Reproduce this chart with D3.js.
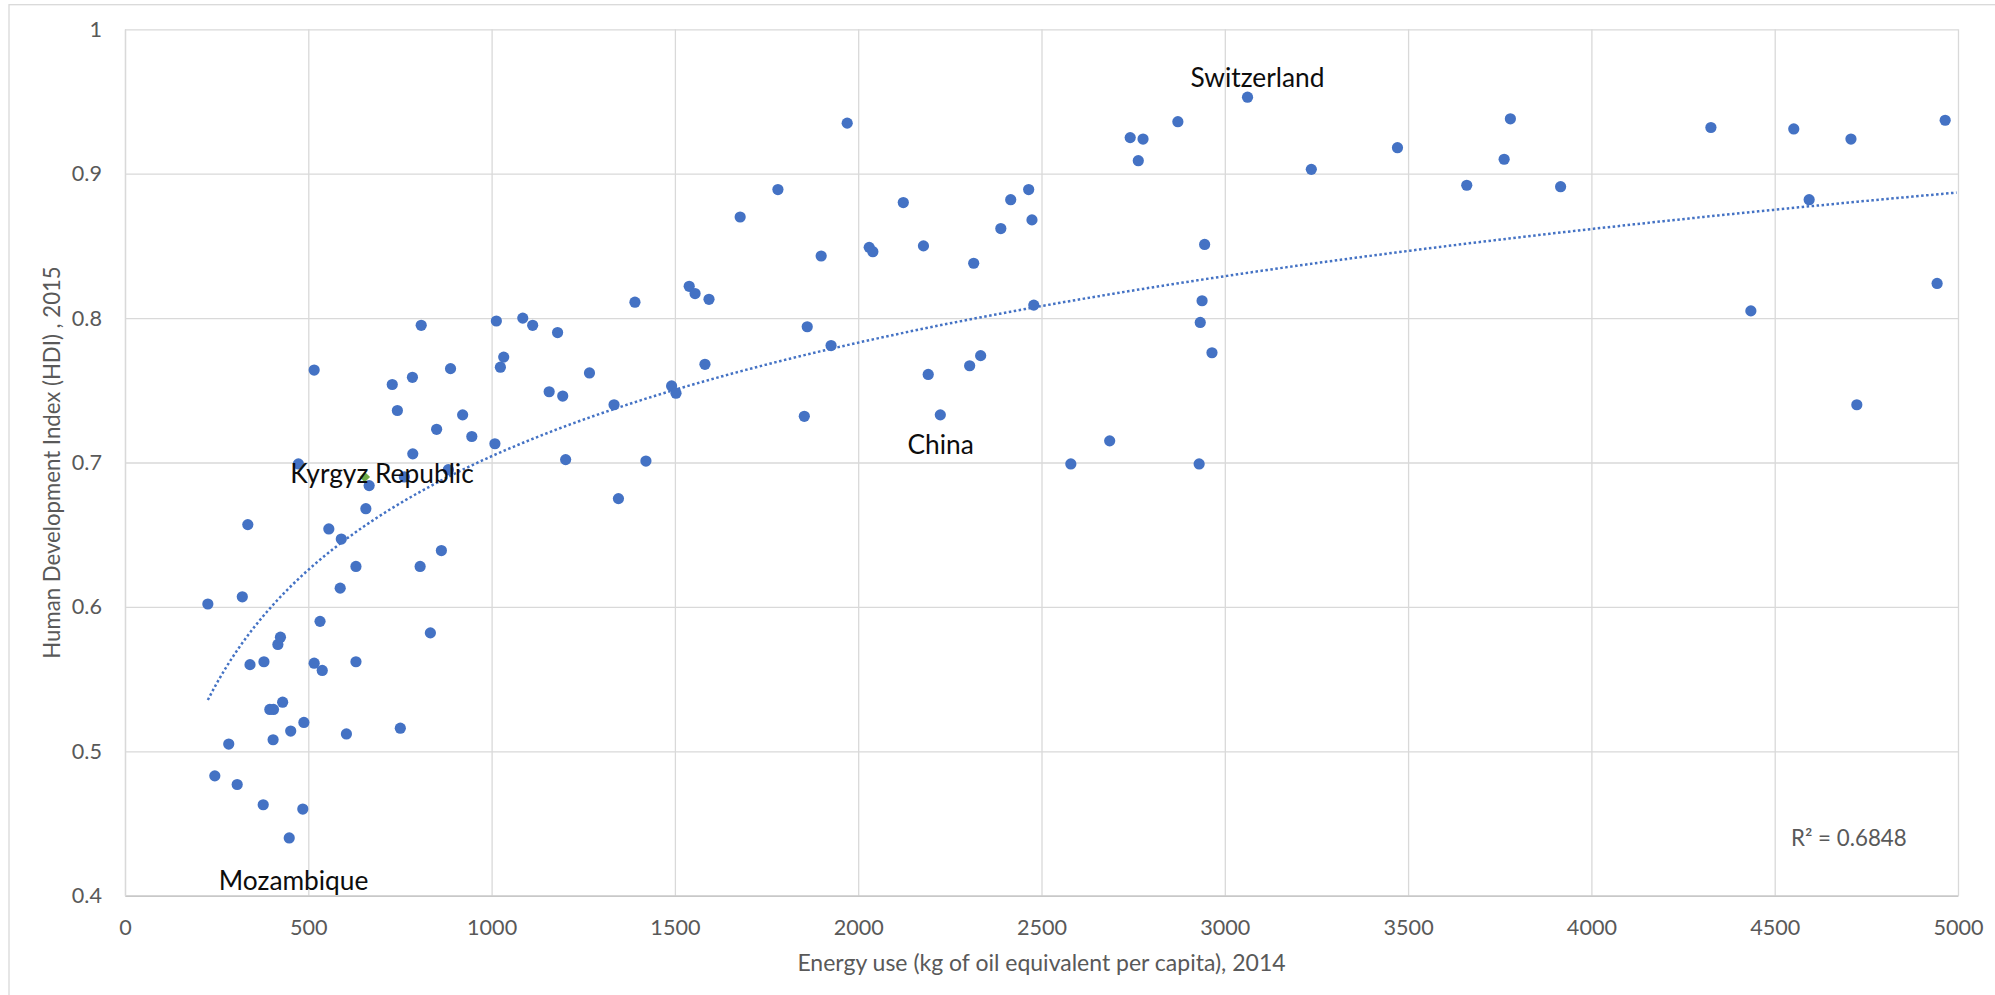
<!DOCTYPE html>
<html>
<head>
<meta charset="utf-8">
<script src="https://cdn.jsdelivr.net/npm/d3@7"></script>
<style>
    body { margin: 0; background: #fff; }
    text { font-family: Lato, "Open Sans", sans-serif; }
</style>
</head>
<body>
<div id="chart"></div>
<script>
// energy use (kg of oil equivalent per capita), 2014
const energy = [
    226, 245, 283, 306, 320, 335, 341, 377, 379, 395, 405, 404, 417, 424, 430, 448, 452, 473, 485, 488,
    516, 516, 532, 538, 556, 587, 590, 604, 630, 630, 657, 666, 729, 743, 751, 762, 784, 785, 805, 808,
    833, 850, 863, 882, 888, 921, 946, 1009, 1013, 1024, 1033, 1085, 1112, 1157, 1180, 1194, 1202, 1267, 1334, 1346,
    1391, 1421, 1491, 1503, 1539, 1555, 1582, 1593, 1678, 1781, 1853, 1861, 1899, 1926, 1970, 2030, 2040, 2123, 2178, 2191,
    2224, 2304, 2315, 2334, 2389, 2416, 2465, 2474, 2479, 2580, 2686, 2742, 2764, 2777, 2872, 2930, 2933, 2938, 2945, 2965,
    3062, 3236, 3471, 3660, 3762, 3779, 3916, 4326, 4435, 4552, 4594, 4708, 4724, 4943, 4965
];
// human development index, 2015
const hdi = [
    0.602, 0.483, 0.505, 0.477, 0.607, 0.657, 0.560, 0.463, 0.562, 0.529, 0.529, 0.508, 0.574, 0.579, 0.534, 0.440, 0.514, 0.699, 0.460, 0.520,
    0.764, 0.561, 0.590, 0.556, 0.654, 0.613, 0.647, 0.512, 0.628, 0.562, 0.668, 0.684, 0.754, 0.736, 0.516, 0.690, 0.759, 0.706, 0.628, 0.795,
    0.582, 0.723, 0.639, 0.695, 0.765, 0.733, 0.718, 0.713, 0.798, 0.766, 0.773, 0.800, 0.795, 0.749, 0.790, 0.746, 0.702, 0.762, 0.740, 0.675,
    0.811, 0.701, 0.753, 0.748, 0.822, 0.817, 0.768, 0.813, 0.870, 0.889, 0.732, 0.794, 0.843, 0.781, 0.935, 0.849, 0.846, 0.880, 0.850, 0.761,
    0.733, 0.767, 0.838, 0.774, 0.862, 0.882, 0.889, 0.868, 0.809, 0.699, 0.715, 0.925, 0.909, 0.924, 0.936, 0.699, 0.797, 0.812, 0.851, 0.776,
    0.953, 0.903, 0.918, 0.892, 0.910, 0.938, 0.891, 0.932, 0.805, 0.931, 0.882, 0.924, 0.740, 0.824, 0.937
];

// highlighted country
const highlightEnergy = [654];
const highlightHdi = [0.690];

// country labels (text anchor in data units)
const labelNames = ["Switzerland", "China", "Kyrgyz Republic", "Mozambique"];
const labelEnergy = [3089, 2225, 701, 460];
const labelHdi = [0.960, 0.706, 0.686, 0.404];

// logarithmic trend line y = a ln(x) + b
const trendA = 0.1135;
const trendB = -0.0797;
const trendRange = [226, 5000];
const rSquaredText = "R² = 0.6848";

const xTicks = [0, 500, 1000, 1500, 2000, 2500, 3000, 3500, 4000, 4500, 5000];
const yTicks = [0.4, 0.5, 0.6, 0.7, 0.8, 0.9, 1];
const yTickLabels = ["0.4", "0.5", "0.6", "0.7", "0.8", "0.9", "1"];

const xTitle = "Energy use (kg of oil equivalent per capita), 2014";
const yTitle = "Human Development Index (HDI) , 2015";

const width = 1995, height = 995;
const plot = {left: 125, right: 1958, top: 29.3, bottom: 895.7};

const svg = d3.select("#chart")
    .append("svg")
    .attr("width", width)
    .attr("height", height);

// chart frame
svg.append("rect")
    .attr("x", 9)
    .attr("y", 4.7)
    .attr("width", width)
    .attr("height", height)
    .attr("fill", "none")
    .attr("stroke", "#d9d9d9")
    .attr("stroke-width", 1.3);

const x = d3.scaleLinear()
    .domain([0, 5000])
    .range([plot.left, plot.right]);
const y = d3.scaleLinear()
    .domain([0.4, 1])
    .range([plot.bottom, plot.top]);

// gridlines
svg.append("g")
    .attr("transform", `translate(0,${plot.bottom})`)
    .call(d3.axisBottom(x).tickValues(xTicks).tickSize(-(plot.bottom - plot.top)).tickFormat(""))
    .call(g => g.select(".domain").remove())
    .call(g => g.selectAll("line").attr("stroke", "#d9d9d9").attr("stroke-width", 1.3));
svg.append("g")
    .attr("transform", `translate(${plot.left},0)`)
    .call(d3.axisLeft(y).tickValues(yTicks).tickSize(-(plot.right - plot.left)).tickFormat(""))
    .call(g => g.select(".domain").remove())
    .call(g => g.selectAll("line").attr("stroke", "#d9d9d9").attr("stroke-width", 1.3));

// axes
svg.append("g")
    .attr("transform", `translate(0,${plot.bottom})`)
    .call(d3.axisBottom(x).tickValues(xTicks).tickSize(0).tickPadding(24).tickFormat(d3.format("d")))
    .call(g => g.select(".domain").attr("stroke", "#bfbfbf").attr("stroke-width", 1.3))
    .call(g => g.selectAll("text").attr("fill", "#595959").style("font-size", "21.6px"));
svg.append("g")
    .attr("transform", `translate(${plot.left},0)`)
    .call(d3.axisLeft(y).tickValues(yTicks).tickSize(0).tickPadding(23)
        .tickFormat((d, i) => yTickLabels[i]))
    .call(g => g.select(".domain").attr("stroke", "#d9d9d9").attr("stroke-width", 1.3))
    .call(g => g.selectAll("text").attr("fill", "#595959").style("font-size", "21.6px"));

// axis titles
svg.append("text")
    .attr("x", (plot.left + plot.right) / 2)
    .attr("y", 971)
    .attr("text-anchor", "middle")
    .attr("fill", "#595959")
    .style("font-size", "23px")
    .text(xTitle);
svg.append("text")
    .attr("transform", `translate(60,${(plot.top + plot.bottom) / 2})rotate(-90)`)
    .attr("text-anchor", "middle")
    .attr("fill", "#595959")
    .style("font-size", "22.2px")
    .text(yTitle);

// trend line
const trendX = d3.range(trendRange[0], trendRange[1] + 1, 10);
const trendLine = d3.line()
    .x(d => x(d))
    .y(d => y(trendA * Math.log(d) + trendB));
svg.append("path")
    .datum(trendX)
    .attr("d", trendLine)
    .attr("fill", "none")
    .attr("stroke", "#4472c4")
    .attr("stroke-width", 2.5)
    .attr("stroke-dasharray", "2.5,2.5");

// points
svg.append("g")
    .selectAll("circle")
    .data(energy)
    .enter()
    .append("circle")
    .attr("cx", d => x(d))
    .attr("cy", (d, i) => y(hdi[i]))
    .attr("r", 5.6)
    .attr("fill", "#4472c4");

svg.append("g")
    .selectAll("path")
    .data(highlightEnergy)
    .enter()
    .append("path")
    .attr("d", d3.symbol(d3.symbolDiamond2, 72))
    .attr("transform", (d, i) => `translate(${x(d)},${y(highlightHdi[i])})`)
    .attr("fill", "#70ad47");

// labels
svg.append("g")
    .selectAll("text")
    .data(labelNames)
    .enter()
    .append("text")
    .attr("x", (d, i) => x(labelEnergy[i]))
    .attr("y", (d, i) => y(labelHdi[i]))
    .attr("text-anchor", "middle")
    .attr("fill", "#0d0d0d")
    .style("font-size", "26.3px")
    .text(d => d);

svg.append("text")
    .attr("x", 1791)
    .attr("y", 846)
    .attr("fill", "#595959")
    .style("font-size", "22.3px")
    .text(rSquaredText);
</script>
</body>
</html>
